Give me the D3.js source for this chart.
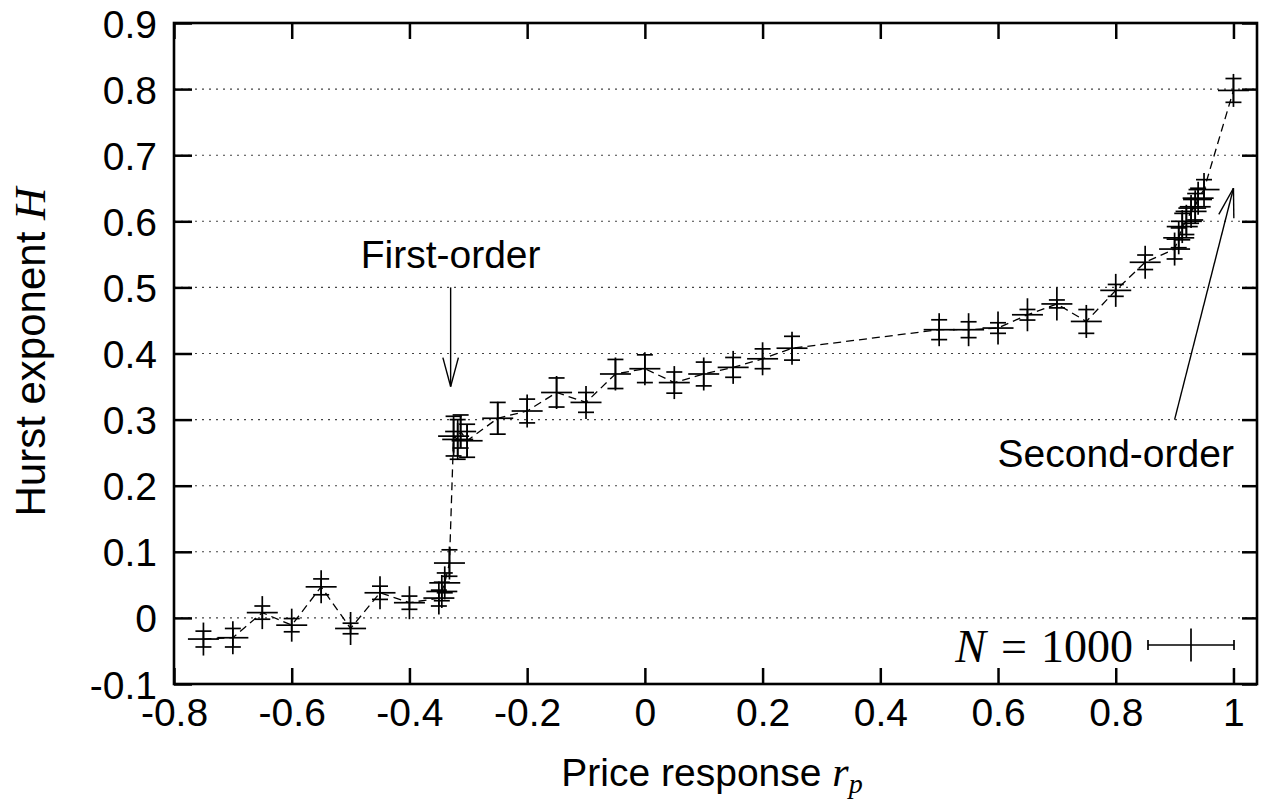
<!DOCTYPE html>
<html>
<head>
<meta charset="utf-8">
<script src="https://cdn.jsdelivr.net/npm/d3@7"></script>
<style>
  html, body { margin: 0; padding: 0; background: #fff; }
  svg { display: block; }
</style>
</head>
<body>
<svg id="chart" width="1264" height="800"></svg>
<script>
// ---- data ----
const rp = [-0.75, -0.70, -0.65, -0.60, -0.55, -0.50, -0.45, -0.40,
            -0.35, -0.345, -0.34, -0.332, -0.325, -0.318, -0.313, -0.302,
            -0.25, -0.20, -0.15, -0.10, -0.05, 0.00, 0.05, 0.10, 0.15, 0.20, 0.25,
            0.50, 0.55, 0.60, 0.65, 0.70, 0.75, 0.80, 0.85, 0.90,
            0.907, 0.913, 0.92, 0.928, 0.935, 0.94, 0.95, 1.00];
const hurst = [-0.032, -0.030, 0.008, -0.011, 0.047, -0.016, 0.038, 0.023,
               0.030, 0.040, 0.053, 0.083, 0.275, 0.270, 0.282, 0.268,
               0.302, 0.313, 0.341, 0.326, 0.369, 0.377, 0.356, 0.369, 0.379, 0.392, 0.408,
               0.436, 0.436, 0.4385, 0.4586, 0.475, 0.4485, 0.4955, 0.538, 0.558,
               0.575, 0.592, 0.600, 0.615, 0.622, 0.635, 0.648, 0.798];
const hurstErr = [0.012, 0.014, 0.010, 0.010, 0.012, 0.008, 0.010, 0.010,
                  0.012, 0.014, 0.015, 0.020, 0.030, 0.030, 0.025, 0.025,
                  0.024, 0.018, 0.022, 0.015, 0.022, 0.021, 0.016, 0.018, 0.015, 0.015, 0.018,
                  0.015, 0.012, 0.008, 0.008, 0.006, 0.018, 0.009, 0.011, 0.015,
                  0.015, 0.020, 0.020, 0.018, 0.020, 0.015, 0.015, 0.018];
const xTicks = [-0.8, -0.6, -0.4, -0.2, 0, 0.2, 0.4, 0.6, 0.8, 1];
const xTickLabels = ["-0.8", "-0.6", "-0.4", "-0.2", "0", "0.2", "0.4", "0.6", "0.8", "1"];
const yTicks = [-0.1, 0, 0.1, 0.2, 0.3, 0.4, 0.5, 0.6, 0.7, 0.8, 0.9];
const yTickLabels = ["-0.1", "0", "0.1", "0.2", "0.3", "0.4", "0.5", "0.6", "0.7", "0.8", "0.9"];
const annotations = [
  {text: "First-order",  lx: -0.33, ly: 0.55, from: [-0.33, 0.50], to: [-0.33, 0.35]},
  {text: "Second-order", lx: 0.80,  ly: 0.25, from: [0.90, 0.30],  to: [1.00, 0.65]}
];
const legendLabel = "1000";

// ---- layout ----
const L = 174, R = 1257, T = 23, B = 684;
const sans = "'Liberation Sans', Arial, sans-serif";
const serif = "'Liberation Serif', 'DejaVu Serif', serif";
const fs = 39;

const svg = d3.select("#chart");
const x = d3.scaleLinear().domain([-0.8, 1.04]).range([L, R]);
const y = d3.scaleLinear().domain([-0.1, 0.9]).range([B, T]);

const data = rp.map((v, i) => ({x: v, y: hurst[i], e: hurstErr[i]}));

// grid
svg.append("g").selectAll("line")
  .data(yTicks.filter(t => t > -0.1 && t < 0.9))
  .join("line")
  .attr("x1", L).attr("x2", R)
  .attr("y1", d => y(d)).attr("y2", d => y(d))
  .attr("stroke", "#444").attr("stroke-width", 1.1)
  .attr("stroke-dasharray", "2,5");

// dashed connecting line
svg.append("path")
  .datum(data)
  .attr("fill", "none")
  .attr("stroke", "#000")
  .attr("stroke-width", 1.3)
  .attr("stroke-dasharray", "8,5")
  .attr("d", d3.line().x(d => x(d.x)).y(d => y(d.y)));

// error bars + "+" symbols
const armH = 15.5, armV = 16.5, cap = 8;
const pts = svg.append("g").attr("stroke", "#000").attr("stroke-width", 1.7);
data.forEach(d => {
  const cx = x(d.x), cy = y(d.y), yt = y(d.y + d.e), yb = y(d.y - d.e);
  const g = pts.append("g");
  g.append("line").attr("x1", cx).attr("x2", cx).attr("y1", yt).attr("y2", yb);
  g.append("line").attr("x1", cx - cap).attr("x2", cx + cap).attr("y1", yt).attr("y2", yt);
  g.append("line").attr("x1", cx - cap).attr("x2", cx + cap).attr("y1", yb).attr("y2", yb);
  g.append("line").attr("x1", cx - armH).attr("x2", cx + armH).attr("y1", cy).attr("y2", cy);
  g.append("line").attr("x1", cx).attr("x2", cx).attr("y1", cy - armV).attr("y2", cy + armV);
});

// axes
const fmtX = d => xTickLabels[xTicks.indexOf(d)];
const fmtY = d => yTickLabels[yTicks.indexOf(d)];
const gx = svg.append("g").attr("transform", `translate(0,${B})`)
  .call(d3.axisBottom(x).tickValues(xTicks).tickFormat(fmtX).tickSize(-16).tickSizeOuter(0).tickPadding(14));
const gy = svg.append("g").attr("transform", `translate(${L},0)`)
  .call(d3.axisLeft(y).tickValues(yTicks).tickFormat(fmtY).tickSize(-18).tickSizeOuter(0).tickPadding(17));
const gx2 = svg.append("g").attr("transform", `translate(0,${T})`)
  .call(d3.axisTop(x).tickValues(xTicks).tickFormat("").tickSize(-16).tickSizeOuter(0));
const gy2 = svg.append("g").attr("transform", `translate(${R},0)`)
  .call(d3.axisRight(y).tickValues(yTicks).tickFormat("").tickSize(-15).tickSizeOuter(0));
[gx, gy, gx2, gy2].forEach(g => {
  g.select(".domain").remove();
  g.selectAll(".tick line").attr("stroke", "#000").attr("stroke-width", 2.5);
  g.selectAll("text").attr("font-family", sans).attr("font-size", fs).attr("fill", "#000");
});
gx.selectAll("text").attr("dy", "0.71em");
gy.selectAll("text").attr("dy", "0.36em");

// border
svg.append("rect").attr("x", L).attr("y", T).attr("width", R - L).attr("height", B - T)
  .attr("fill", "none").attr("stroke", "#000").attr("stroke-width", 2.6);

// annotations with open arrowheads
const headLen = 30, headAng = 15 * Math.PI / 180;
annotations.forEach(a => {
  svg.append("text").attr("x", x(a.lx)).attr("y", y(a.ly)).attr("dy", "0.36em")
    .attr("text-anchor", "middle").attr("font-family", sans).attr("font-size", fs)
    .text(a.text);
  const x0 = x(a.from[0]), y0 = y(a.from[1]), x1 = x(a.to[0]), y1 = y(a.to[1]);
  svg.append("line").attr("x1", x0).attr("y1", y0).attr("x2", x1).attr("y2", y1)
    .attr("stroke", "#000").attr("stroke-width", 1.4);
  const ang = Math.atan2(y0 - y1, x0 - x1);
  [ang - headAng, ang + headAng].forEach(t => {
    svg.append("line").attr("x1", x1).attr("y1", y1)
      .attr("x2", x1 + headLen * Math.cos(t)).attr("y2", y1 + headLen * Math.sin(t))
      .attr("stroke", "#000").attr("stroke-width", 1.4);
  });
});

// legend
const legY = 645, lx0 = 1148, lx1 = 1234, lmid = (lx0 + lx1) / 2;
const leg = svg.append("g").attr("stroke", "#000").attr("stroke-width", 1.7);
leg.append("line").attr("x1", lx0).attr("x2", lx1).attr("y1", legY).attr("y2", legY);
leg.append("line").attr("x1", lx0).attr("x2", lx0).attr("y1", legY - 5).attr("y2", legY + 5);
leg.append("line").attr("x1", lx1).attr("x2", lx1).attr("y1", legY - 5).attr("y2", legY + 5);
leg.append("line").attr("x1", lmid).attr("x2", lmid).attr("y1", legY - armV).attr("y2", legY + armV);
const lt = svg.append("text").attr("x", 1133).attr("y", legY + 17)
  .attr("text-anchor", "end").attr("font-family", serif).attr("font-size", 46);
lt.append("tspan").attr("font-style", "italic").text("N");
lt.append("tspan").attr("dx", 15).text("=");
lt.append("tspan").attr("dx", 14).text(legendLabel);

// axis titles
const xt = svg.append("text").attr("x", 712).attr("y", 786).attr("text-anchor", "middle")
  .attr("font-family", sans).attr("font-size", fs);
xt.append("tspan").text("Price response ");
xt.append("tspan").attr("font-family", serif).attr("font-style", "italic").attr("font-size", 42).text("r");
xt.append("tspan").attr("font-family", serif).attr("font-style", "italic").attr("font-size", 28).attr("dy", 7).text("p");

const yt = svg.append("text").attr("transform", `translate(45,352) rotate(-90)`)
  .attr("text-anchor", "middle").attr("font-family", sans).attr("font-size", 42);
yt.append("tspan").text("Hurst exponent ");
yt.append("tspan").attr("font-family", serif).attr("font-style", "italic").attr("font-size", 45).text("H");
</script>
</body>
</html>
